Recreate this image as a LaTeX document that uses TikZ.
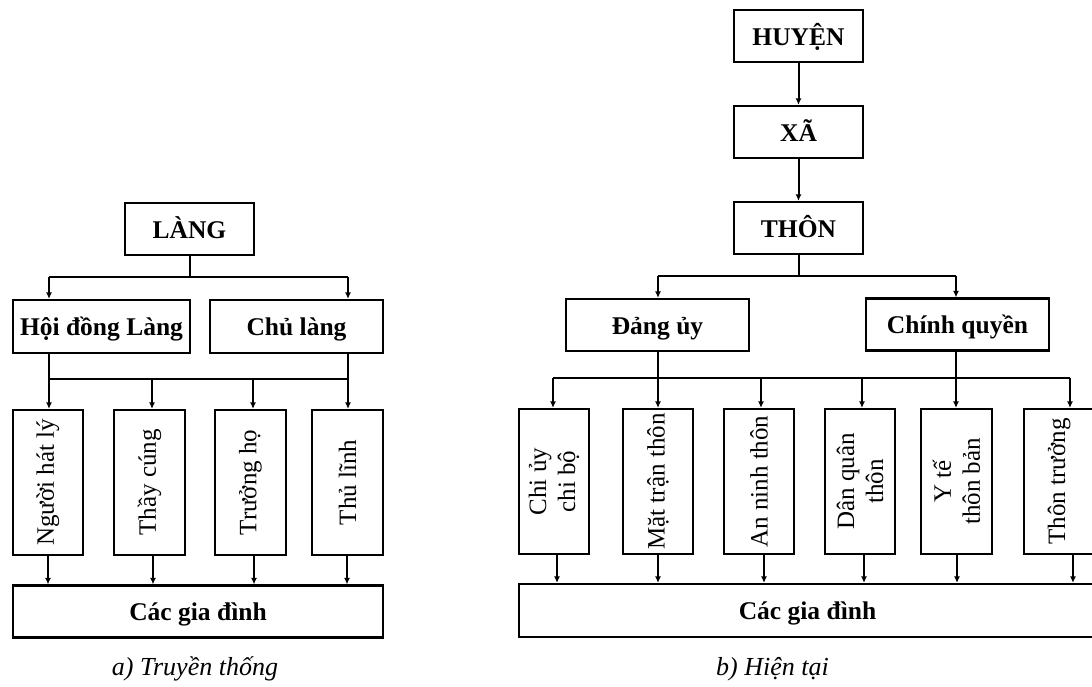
\documentclass[tikz,border=0pt]{standalone}
\usepackage{fontspec}
\setmainfont{Liberation Serif}
\usetikzlibrary{arrows.meta}
\begin{document}
\begin{tikzpicture}[x=1pt,y=-1pt,
  box/.style={draw, line width=2.2pt, fill=white, inner sep=0pt, text height=18pt, text depth=0pt, font=\fontsize{25.5}{29}\selectfont\bfseries},
  vbox/.style={draw, line width=2.2pt, fill=white, inner sep=0pt, minimum height=145pt},
  vtxt/.style={rotate=90, align=center, inner sep=0pt, font=\fontsize{25}{29}\selectfont},
  conn/.style={line width=2pt},
  arr/.style={conn, -{Latex[length=6.5pt,width=6pt]}},
  captext/.style={font=\fontsize{26}{29}\selectfont\itshape}]
\useasboundingbox (0,0) rectangle (1092,686);
\clip (0,0) rectangle (1092,686);

% ---------------- Left: a) Truyen thong ----------------
\node[box, minimum width=129pt, minimum height=52pt] (lang) at (189.5,229) {LÀNG};
\node[box, minimum width=177pt, minimum height=53pt] (hoidong) at (101.5,326.5) {Hội đồng Làng};
\node[box, minimum width=173pt, minimum height=53pt] (chulang) at (296.5,326.5) {Chủ làng};

\node[vbox, minimum width=70pt] (L1) at (48,482.5) {};
\node[vbox, minimum width=71pt] (L2) at (149.5,482.5) {};
\node[vbox, minimum width=71pt] (L3) at (250.5,482.5) {};
\node[vbox, minimum width=71pt] (L4) at (347.5,482.5) {};
\node[vtxt] (L1t) at (L1) {Người hát lý};
\node[vtxt] (L2t) at (L2) {Thầy cúng};
\node[vtxt] (L3t) at (L3) {Trưởng họ};
\node[vtxt] (L4t) at (L4) {Thủ lĩnh};

\node[box, minimum width=370pt, minimum height=52pt] (cgdL) at (198,611.5) {Các gia đình};
\node[captext] (capL) at (195,669) {a) Truyền thống};

% connectors left
\coordinate (la) at (49,277);
\coordinate (lb) at (348,277);
\draw[conn] (lang.south) -- (lang.south |- la);
\draw[conn] (la) -- (lb);
\draw[arr] (la) -- (la |- hoidong.north);
\draw[arr] (lb) -- (lb |- chulang.north);

\coordinate (m1) at (49,379);
\coordinate (m2) at (152,379);
\coordinate (m3) at (253,379);
\coordinate (m4) at (348,379);
\draw[conn] (m1 |- hoidong.south) -- (m1);
\draw[conn] (m4 |- chulang.south) -- (m4);
\draw[conn] (m1) -- (m4);
\draw[arr] (m1) -- (m1 |- L1.north);
\draw[arr] (m2) -- (m2 |- L2.north);
\draw[arr] (m3) -- (m3 |- L3.north);
\draw[arr] (m4) -- (m4 |- L4.north);

\coordinate (b1) at (48,0);
\coordinate (b2) at (153,0);
\coordinate (b3) at (254,0);
\coordinate (b4) at (347,0);
\draw[arr] (b1 |- L1.south) -- (b1 |- cgdL.north);
\draw[arr] (b2 |- L2.south) -- (b2 |- cgdL.north);
\draw[arr] (b3 |- L3.south) -- (b3 |- cgdL.north);
\draw[arr] (b4 |- L4.south) -- (b4 |- cgdL.north);

% ---------------- Right: b) Hien tai ----------------
\node[box, minimum width=129pt, minimum height=52pt] (huyen) at (798.5,36) {HUYỆN};
\node[box, minimum width=129pt, minimum height=52pt] (xa) at (798.5,132) {XÃ};
\node[box, minimum width=129pt, minimum height=52pt] (thon) at (798.5,228) {THÔN};
\node[box, minimum width=183pt, minimum height=52pt] (dang) at (657.5,325) {Đảng ủy};
\node[box, minimum width=183pt, minimum height=52pt] (chinh) at (957.5,324.5) {Chính quyền};

\node[vbox, minimum width=70pt] (R1) at (554,481.5) {};
\node[vbox, minimum width=70pt] (R2) at (658,481.5) {};
\node[vbox, minimum width=70pt] (R3) at (759,481.5) {};
\node[vbox, minimum width=70pt] (R4) at (860,481.5) {};
\node[vbox, minimum width=71pt] (R5) at (956.5,481.5) {};
\node[vbox, minimum width=70pt] (R6) at (1059,481.5) {};
\node[vtxt] (R1t) at (R1) {Chi ủy\\chi bộ};
\node[vtxt] (R2t) at (R2) {Mặt trận thôn};
\node[vtxt] (R3t) at (R3) {An ninh thôn};
\node[vtxt] (R4t) at (R4) {Dân quân\\thôn};
\node[vtxt] (R5t) at (R5) {Y tế\\thôn bản};
\node[vtxt] (R6t) at (R6) {Thôn trưởng};

\node[box, minimum width=577pt, minimum height=53pt] (cgdR) at (807.5,610.5) {Các gia đình};
\node[captext] (capR) at (772.5,669) {b) Hiện tại};

% connectors right
\draw[arr] (huyen) -- (xa);
\draw[arr] (xa) -- (thon);
\coordinate (ra) at (658,276);
\coordinate (rb) at (956,276);
\draw[conn] (thon.south) -- (thon.south |- ra);
\draw[conn] (ra) -- (rb);
\draw[arr] (ra) -- (ra |- dang.north);
\draw[arr] (rb) -- (rb |- chinh.north);

\coordinate (n1) at (553,378);
\coordinate (n2) at (658,378);
\coordinate (n3) at (761,378);
\coordinate (n4) at (862,378);
\coordinate (n5) at (956,378);
\coordinate (n6) at (1070,378);
\draw[conn] (n2 |- dang.south) -- (n2);
\draw[conn] (n5 |- chinh.south) -- (n5);
\draw[conn] (n1) -- (n6);
\draw[arr] (n1) -- (n1 |- R1.north);
\draw[arr] (n2) -- (n2 |- R2.north);
\draw[arr] (n3) -- (n3 |- R3.north);
\draw[arr] (n4) -- (n4 |- R4.north);
\draw[arr] (n5) -- (n5 |- R5.north);
\draw[arr] (n6) -- (n6 |- R6.north);

\coordinate (c1) at (557,0);
\coordinate (c2) at (658,0);
\coordinate (c3) at (764,0);
\coordinate (c4) at (864,0);
\coordinate (c5) at (957,0);
\coordinate (c6) at (1073,0);
\draw[arr] (c1 |- R1.south) -- (c1 |- cgdR.north);
\draw[arr] (c2 |- R2.south) -- (c2 |- cgdR.north);
\draw[arr] (c3 |- R3.south) -- (c3 |- cgdR.north);
\draw[arr] (c4 |- R4.south) -- (c4 |- cgdR.north);
\draw[arr] (c5 |- R5.south) -- (c5 |- cgdR.north);
\draw[arr] (c6 |- R6.south) -- (c6 |- cgdR.north);
\end{tikzpicture}
\end{document}
